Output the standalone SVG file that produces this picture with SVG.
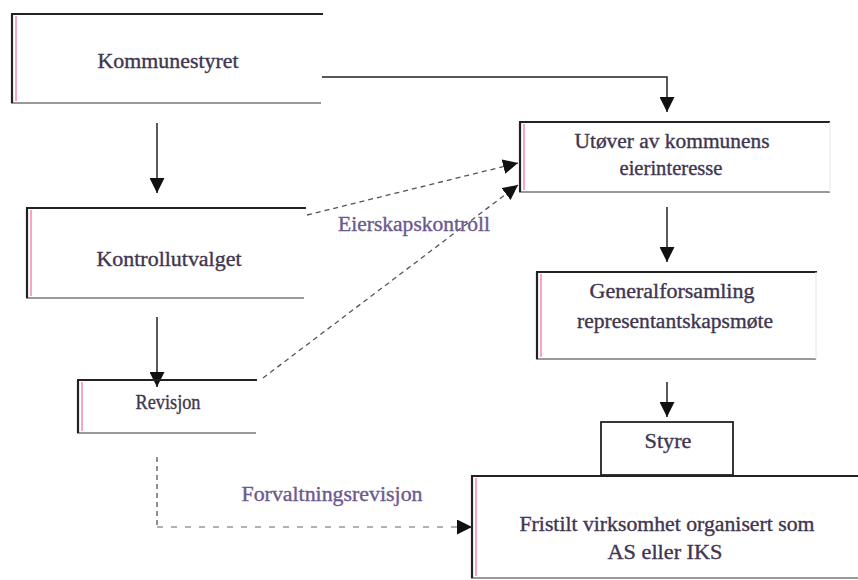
<svg xmlns="http://www.w3.org/2000/svg" width="858" height="580" viewBox="0 0 858 580">
<style>
.top{stroke:#222;stroke-width:2.2;fill:none}
.bot{stroke:#777;stroke-width:1.6;fill:none}
.lft{stroke:#222;stroke-width:2.2;fill:none}
.pink{stroke:#f06aa0;stroke-width:1.2;fill:none}
.rgt{stroke:#e4e4e4;stroke-width:1;fill:none}
.t{font-family:'Liberation Serif','DejaVu Serif',serif;font-size:20px;fill:#3f3650;stroke:#3f3650;stroke-width:0.35;text-anchor:middle}
.lbl{font-family:'Liberation Serif','DejaVu Serif',serif;font-size:20px;fill:#6b5a8e;stroke:#6b5a8e;stroke-width:0.35;text-anchor:middle}
.solid{stroke:#222;stroke-width:1.5;fill:none}
.dash{stroke:#555;stroke-width:1.3;fill:none;stroke-dasharray:5 4}
.dash2{stroke:#999;stroke-width:1.3;fill:none;stroke-dasharray:6 8}
</style>
<defs>
<marker id="ahb" viewBox="0 0 10 10" refX="10" refY="5" markerWidth="15" markerHeight="15" markerUnits="userSpaceOnUse" orient="auto">
<path d="M0,0 L10,5 L0,10 z" fill="#111"/>
</marker>
</defs>
<rect width="858" height="580" fill="#fff"/>

<g id="connectors">
<path class="solid" d="M322,77 H667 V112" marker-end="url(#ahb)"/>
<path class="solid" d="M157,123 V193" marker-end="url(#ahb)"/>
<path class="solid" d="M157,317 V387" marker-end="url(#ahb)"/>
<path class="solid" d="M667,207 V262" marker-end="url(#ahb)"/>
<path class="solid" d="M667,382 V417" marker-end="url(#ahb)"/>
<path class="dash" d="M307,215 L518,163" marker-end="url(#ahb)"/>
<path class="dash" d="M263,378 L518,185" marker-end="url(#ahb)"/>
<path class="dash" d="M157,457 V527"/>
<path class="dash2" d="M157,527 H472" marker-end="url(#ahb)"/>
<text class="lbl" x="414" y="231" textLength="152" lengthAdjust="spacingAndGlyphs">Eierskapskontroll</text>
<text class="lbl" x="332" y="501" textLength="181" lengthAdjust="spacingAndGlyphs">Forvaltningsrevisjon</text>
</g>

<g id="kommunestyret">
<path class="top" d="M11,14 H323"/>
<path class="bot" d="M11,103 H321"/>
<path class="lft" d="M12,14 V103"/>
<path class="pink" d="M16,16 V101"/>
<text class="t" x="168" y="68" textLength="141" lengthAdjust="spacingAndGlyphs">Kommunestyret</text>
</g>

<g id="kontrollutvalget">
<path class="top" d="M26,208 H306"/>
<path class="bot" d="M26,298 H304"/>
<path class="lft" d="M27,208 V298"/>
<path class="pink" d="M31,210 V296"/>
<text class="t" x="169" y="266" textLength="145" lengthAdjust="spacingAndGlyphs">Kontrollutvalget</text>
</g>

<g id="revisjon">
<path class="top" d="M77,380 H257"/>
<path class="bot" d="M77,433 H256"/>
<path class="lft" d="M78,380 V433"/>
<path class="pink" d="M82,382 V431"/>
<text class="t" x="168" y="409" textLength="65" lengthAdjust="spacingAndGlyphs">Revisjon</text>
</g>

<g id="utover">
<path class="top" d="M519,122 H830"/>
<path class="bot" d="M519,192 H830"/>
<path class="rgt" d="M830,122 V192"/>
<path class="lft" d="M520,122 V192"/>
<path class="pink" d="M524,124 V190"/>
<text class="t" x="672" y="148" textLength="195" lengthAdjust="spacingAndGlyphs">Utøver av kommunens</text>
<text class="t" x="671" y="175" textLength="103" lengthAdjust="spacingAndGlyphs">eierinteresse</text>
</g>

<g id="generalforsamling">
<path class="top" d="M536,272 H817"/>
<path class="bot" d="M536,359 H816"/>
<path class="rgt" d="M816,272 V359"/>
<path class="lft" d="M537,272 V359"/>
<path class="pink" d="M541,274 V357"/>
<text class="t" x="672" y="298" textLength="165" lengthAdjust="spacingAndGlyphs">Generalforsamling</text>
<text class="t" x="675" y="328" textLength="196" lengthAdjust="spacingAndGlyphs">representantskapsmøte</text>
</g>

<g id="styre">
<rect x="601" y="422" width="132" height="53" fill="#fff" stroke="#222" stroke-width="1.8"/>
<text class="t" x="668" y="448" textLength="47" lengthAdjust="spacingAndGlyphs">Styre</text>
</g>

<g id="fristilt">
<path class="top" d="M471,476 H858"/>
<path class="bot" d="M471,578 H858"/>
<path class="lft" d="M472,476 V578"/>
<path class="pink" d="M476,478 V576"/>
<text class="t" x="667" y="531" textLength="295" lengthAdjust="spacingAndGlyphs">Fristilt virksomhet organisert som</text>
<text class="t" x="665" y="559" textLength="115" lengthAdjust="spacingAndGlyphs">AS eller IKS</text>
</g>
</svg>
